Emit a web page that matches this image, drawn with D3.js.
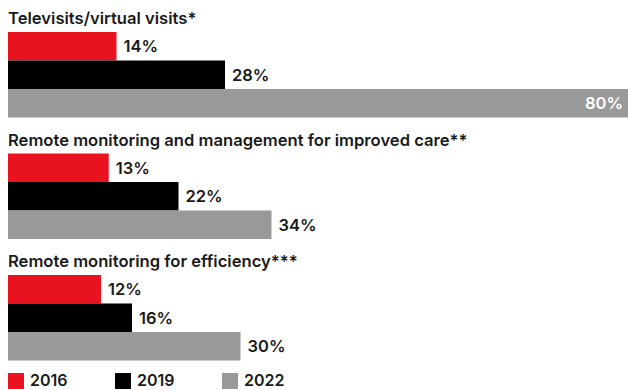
<!DOCTYPE html>
<html>
<head>
<meta charset="utf-8">
<script src="https://cdn.jsdelivr.net/npm/d3@7"></script>
<style>
    body { margin: 0; background: #fff; }
    svg { display: block; font-family: Inter, "Noto Sans", sans-serif; }
</style>
</head>
<body>
<div id="chart"></div>
<script>
// ========================= DATA ==================================
const categories = [
    'Televisits/virtual visits*',
    'Remote monitoring and management for improved care**',
    'Remote monitoring for efficiency***'
];
const years = ['2016', '2019', '2022'];
const values2016 = [14, 13, 12];
const values2019 = [28, 22, 16];
const values2022 = [80, 34, 30];
const colours = ['#e8131f', '#000000', '#999999'];

// ========================= CHART ==================================
const width = 628, height = 390;

const svg = d3.select('#chart').append('svg')
    .attr('width', width)
    .attr('height', height);

const seriesValues = [values2016, values2019, values2022];
const groups = categories.map((name, i) => ({
    name: name,
    values: years.map((y, j) => ({ year: y, value: seriesValues[j][i] }))
}));

const x = d3.scaleLinear().domain([0, 80]).range([8, 628]);
const y0 = d3.scaleBand().domain(categories).range([10, 374.5]);
const y1 = d3.scaleBand().domain(years).range([0, 85.5]);
const colour = d3.scaleOrdinal().domain(years).range(colours);

const $groups = svg.selectAll('.group')
    .data(groups)
    .enter()
    .append('g')
    .attr('class', 'group')
    .attr('transform', d => `translate(0, ${y0(d.name)})`);

$groups.append('text')
    .attr('x', 8)
    .attr('y', 14)
    .attr('fill', '#1a1a1a')
    .attr('font-size', '16.6px')
    .attr('font-weight', 600)
    .text(d => d.name);

const $bars = $groups.append('g')
    .attr('transform', 'translate(0, 22)')
    .selectAll('.bar')
    .data(d => d.values)
    .enter()
    .append('g')
    .attr('class', 'bar');

$bars.append('rect')
    .attr('x', x(0))
    .attr('y', d => y1(d.year))
    .attr('width', d => x(d.value) - x(0))
    .attr('height', y1.bandwidth())
    .attr('fill', d => colour(d.year));

// labels go inside the bar when there is no room left on the right
$bars.append('text')
    .attr('x', d => x(d.value) > 560 ? x(d.value) - 5 : x(d.value) + 7)
    .attr('y', d => y1(d.year) + y1.bandwidth() / 2 + 6)
    .attr('text-anchor', d => x(d.value) > 560 ? 'end' : 'start')
    .attr('fill', d => x(d.value) > 560 ? '#ffffff' : '#1a1a1a')
    .attr('font-size', '16.5px')
    .attr('font-weight', 600)
    .text(d => d.value + '%');

// legend
const legend = svg.append('g')
    .selectAll('.legend')
    .data(years)
    .enter()
    .append('g')
    .attr('class', 'legend')
    .attr('transform', (d, i) => `translate(${8 + i * 107}, 373)`);

legend.append('rect')
    .attr('width', 16)
    .attr('height', 16)
    .attr('fill', d => colour(d));

legend.append('text')
    .attr('x', 22)
    .attr('y', 13)
    .attr('fill', '#1a1a1a')
    .attr('font-size', '16px')
    .attr('font-weight', 600)
    .text(d => d);
</script>
</body>
</html>
